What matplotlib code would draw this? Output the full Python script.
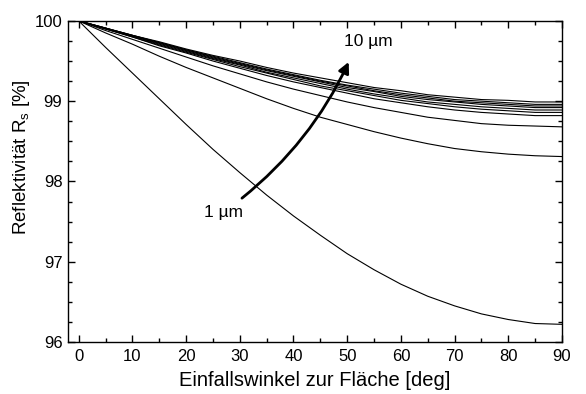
import matplotlib
matplotlib.use("Agg")
import matplotlib.pyplot as plt
from matplotlib.patches import FancyArrowPatch
from matplotlib.ticker import MultipleLocator

plt.rcParams['font.family'] = ['Liberation Sans', 'DejaVu Sans']
plt.rcParams['mathtext.fontset'] = 'custom'
plt.rcParams['mathtext.rm'] = 'Liberation Sans'
plt.rcParams['mathtext.it'] = 'Liberation Sans'

# angle of incidence (deg)
angle = [0, 5, 10, 15, 20, 25, 30, 35, 40, 45, 50, 55, 60, 65, 70, 75, 80, 85, 90]

# reflectivity R_s (%) for layer thickness 1 ... 10 um
r_1um = [100.00, 99.67, 99.35, 99.03, 98.71, 98.40, 98.11, 97.83, 97.57, 97.33,
         97.10, 96.90, 96.72, 96.57, 96.45, 96.35, 96.28, 96.23, 96.22]
r_2um = [100.00, 99.85, 99.71, 99.56, 99.42, 99.29, 99.16, 99.03, 98.91, 98.80,
         98.71, 98.62, 98.54, 98.47, 98.41, 98.37, 98.34, 98.32, 98.31]
r_3um = [100.00, 99.88, 99.77, 99.66, 99.55, 99.44, 99.34, 99.24, 99.15, 99.07,
         98.99, 98.92, 98.86, 98.80, 98.76, 98.72, 98.70, 98.69, 98.68]
r_4um = [100.00, 99.90, 99.80, 99.69, 99.60, 99.50, 99.41, 99.32, 99.24, 99.17,
         99.10, 99.03, 98.98, 98.93, 98.89, 98.86, 98.84, 98.82, 98.82]
r_5um = [100.00, 99.90, 99.80, 99.70, 99.61, 99.52, 99.43, 99.35, 99.27, 99.19,
         99.13, 99.07, 99.01, 98.97, 98.93, 98.90, 98.88, 98.86, 98.86]
r_6um = [100.00, 99.90, 99.81, 99.71, 99.62, 99.53, 99.45, 99.36, 99.29, 99.22,
         99.15, 99.09, 99.04, 98.99, 98.96, 98.93, 98.91, 98.89, 98.89]
r_7um = [100.00, 99.91, 99.81, 99.72, 99.63, 99.54, 99.46, 99.38, 99.31, 99.24,
         99.17, 99.12, 99.06, 99.02, 98.99, 98.96, 98.94, 98.92, 98.92]
r_8um = [100.00, 99.91, 99.82, 99.73, 99.64, 99.55, 99.47, 99.39, 99.32, 99.25,
         99.19, 99.13, 99.08, 99.04, 99.00, 98.98, 98.96, 98.94, 98.94]
r_9um = [100.00, 99.91, 99.82, 99.73, 99.64, 99.56, 99.48, 99.40, 99.33, 99.26,
         99.20, 99.15, 99.10, 99.06, 99.02, 99.00, 98.98, 98.96, 98.96]
r_10um = [100.00, 99.91, 99.82, 99.74, 99.65, 99.57, 99.50, 99.42, 99.35, 99.29,
          99.23, 99.17, 99.13, 99.08, 99.05, 99.02, 99.01, 98.99, 98.99]

curves = [r_1um, r_2um, r_3um, r_4um, r_5um, r_6um, r_7um, r_8um, r_9um, r_10um]

fig = plt.figure(figsize=(5.86, 3.94), dpi=100)
ax = fig.add_axes([0.116, 0.132, 0.843, 0.815])

for r in curves:
    ax.plot(angle, r, color='black', lw=0.8)

ax.set_xlim(-2, 90)
ax.set_ylim(96, 100)
ax.xaxis.set_major_locator(MultipleLocator(10))
ax.xaxis.set_minor_locator(MultipleLocator(5))
ax.yaxis.set_major_locator(MultipleLocator(1))
ax.yaxis.set_minor_locator(MultipleLocator(0.25))
ax.tick_params(which='both', direction='in', top=True, right=True, labelsize=12)
ax.tick_params(which='major', length=5, width=1, pad=5)
ax.tick_params(which='minor', length=3, width=1)
ax.tick_params(axis='y', pad=4)
for s in ax.spines.values():
    s.set_linewidth(1)

ax.set_xlabel('Einfallswinkel zur Fläche [deg]', fontsize=14.5, labelpad=5)
ax.set_ylabel('Reflektivität R$_\\mathrm{s}$ [%]', fontsize=13.5)
ax.yaxis.set_label_coords(-0.072, 0.575)

# arrow from 1 um to 10 um
arr = FancyArrowPatch((30.0, 97.77), (50.5, 99.52), arrowstyle='-|>',
                      connectionstyle='arc3,rad=0.12', mutation_scale=16,
                      lw=2, color='black')
ax.add_patch(arr)
ax.text(49.4, 99.74, '10 µm', fontsize=12.5, va='center', ha='left')
ax.text(23.3, 97.61, '1 µm', fontsize=12.5, va='center', ha='left')

fig.savefig('out.png', dpi=100)
